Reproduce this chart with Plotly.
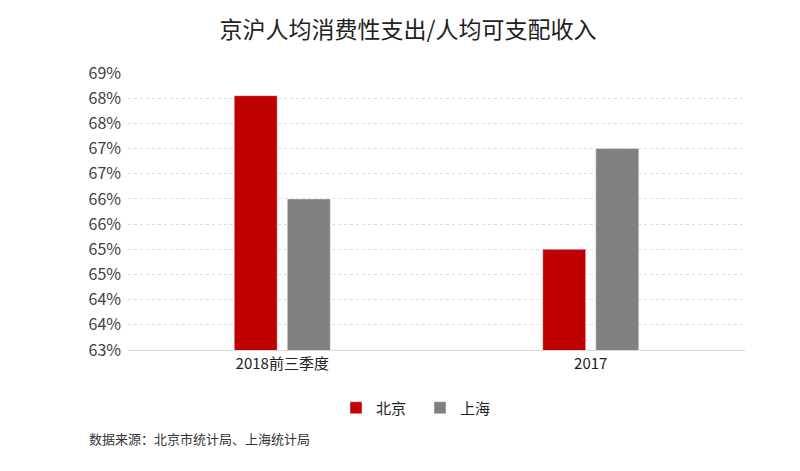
import plotly.graph_objects as go
import math

categories = ["2018前三季度", "2017"]
beijing = [68.05, 65.0]
shanghai = [66.0, 67.0]
tick_vals = [63.0, 63.5, 64.0, 64.5, 65.0, 65.5, 66.0, 66.5, 67.0, 67.5, 68.0, 68.5]
tick_text = ["%d%%" % math.floor(v + 0.5) for v in tick_vals]

font_family = "Noto Sans CJK SC, Noto Sans, sans-serif"

# page body has an 8px offset; margins compensate
L, R, T, B = 120, 63, 65, 129
plot_w = 800 - L - R
plot_h = 471 - T - B

fig = go.Figure()
fig.add_trace(go.Bar(name="北京", x=categories, y=beijing, marker_color="#C00000"))
fig.add_trace(go.Bar(name="上海", x=categories, y=shanghai, marker_color="#808080"))

fig.update_layout(
    width=800, height=471,
    paper_bgcolor="white", plot_bgcolor="white",
    margin=dict(l=L, r=R, t=T, b=B),
    barmode="group", bargap=0.656, bargroupgap=0.19,
    font=dict(family=font_family, color="#333333"),
    title=dict(text="京沪人均消费性支出/人均可支配收入", x=0.5, xanchor="center",
               y=1 - 22 / 471, yanchor="middle", font=dict(size=23, color="#222222")),
    legend=dict(orientation="h", x=(328 - L) / plot_w, xanchor="left",
                y=(342 - 400) / plot_h, yanchor="middle",
                font=dict(size=15, color="#222222"), itemwidth=30, traceorder="normal",
                entrywidth=39, entrywidthmode="pixels"),
    showlegend=True,
)
fig.update_xaxes(showline=True, linecolor="#D9D9D9", linewidth=1, ticks="",
                 tickfont=dict(size=15, color="#222222"), showgrid=False)
fig.update_yaxes(range=[63, 68.5], tickvals=tick_vals, ticktext=tick_text,
                 showgrid=True, gridcolor="#DDDDDD", griddash="dot", gridwidth=1,
                 zeroline=False, tickfont=dict(size=16, color="#404040"), ticks="",
                 ticklabelstandoff=6)
fig.add_annotation(text="数据来源：北京市统计局、上海统计局", xref="paper", yref="paper",
                   x=(79 - L) / plot_w, xanchor="left", y=(342 - 430) / plot_h, yanchor="middle",
                   showarrow=False, font=dict(size=13, color="#333333"))
fig.write_html("out.html")
